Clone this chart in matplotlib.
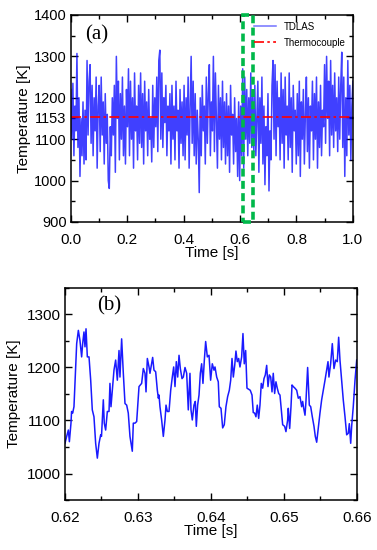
import numpy as np
import matplotlib.pyplot as plt
from matplotlib.patches import Rectangle
from matplotlib.ticker import MultipleLocator
import matplotlib.transforms as mtransforms

# (a) TDLAS temperature over the full 1 s record
tdlas_T = [
    1220, 1100, 1235, 1060, 1180, 1120, 1307, 1080, 1200, 1010, 1150, 1060, 1190, 1040,
    1170, 1050, 1290, 1110, 1240, 1280, 1090, 1230, 1060, 1200, 1120, 1250, 1030, 1180,
    1230, 1070, 1250, 1110, 1190, 1040, 1210, 1090, 1160, 1000, 981, 1130, 1060, 1200,
    1110, 1230, 1020, 1300, 1150, 1240, 1050, 1210, 1100, 1250, 1060, 1180, 1040, 1220,
    1130, 1270, 1060, 1240, 1100, 1200, 1030, 1260, 1120, 1180, 1050, 1230, 1090, 1260,
    1080, 1210, 1040, 1240, 1120, 1190, 1060, 1220, 1100, 1150, 1045, 1230, 1080, 1200,
    1130, 1250, 1070, 1290, 1315, 1100, 1260, 1080, 1200, 1140, 1230, 1060, 1180, 1120,
    1210, 1040, 1230, 1100, 1180, 1050, 1240, 1120, 1170, 1030, 1220, 1090, 1190, 1060,
    1230, 1050, 1200, 1110, 1250, 1030, 1180, 1300, 1090, 1240, 1060, 1210, 1040, 1170,
    1100, 971, 1200, 1060, 1230, 1120, 1180, 1040, 1250, 1090, 1210, 1280, 1060, 1190,
    1120, 1300, 1070, 1260, 1150, 1030, 1230, 1100, 1200, 1050, 1240, 1080, 1190, 1040,
    1210, 1060, 1180, 1020, 1230, 1110, 1160, 1040, 1200, 1070, 1150, 1010, 1190, 1000,
    1180, 1060, 1270, 1030, 1250, 1100, 1220, 1060, 1200, 1090, 1260, 1080, 1210, 1070,
    1230, 1060, 1150, 1240, 1020, 1200, 1090, 1250, 1040, 1180, 990, 1130, 1060, 1210,
    975, 1120, 1050, 1230, 1290, 1100, 1280, 1060, 1240, 1130, 1200, 1050, 1260, 1090,
    1220, 1030, 1250, 1110, 1180, 1050, 1260, 1080, 1200, 1020, 1230, 1120, 1170, 1040,
    1210, 1060, 1240, 1010, 1190, 1100, 1220, 1040, 1160, 1250, 1070, 1200, 1030, 1180,
    1120, 1240, 1050, 1210, 1100, 1250, 1030, 1190, 1080, 1230, 1060, 1170, 1130, 1280,
    1090, 1300, 1150, 1240, 1060, 1290, 1110, 1230, 1080, 1260, 1120, 1200, 1070, 1250,
    1100, 1230, 1310, 1080, 1250, 1010, 1200, 1060, 1290, 1110, 1230, 1050, 1180, 1240,
]
tdlas_t = np.linspace(0, 1, len(tdlas_T))
thermocouple_T = 1153
box_range = (0.61, 0.645)

# (b) zoomed window 0.62-0.66 s
zoom_t = [
    0.62000, 0.62023, 0.62046, 0.62060, 0.62082, 0.62090, 0.62105, 0.62123, 0.62146, 0.62160,
    0.62183, 0.62205, 0.62228, 0.62242, 0.62260, 0.62274, 0.62288, 0.62306, 0.62329, 0.62352,
    0.62374, 0.62397, 0.62420, 0.62443, 0.62466, 0.62489, 0.62500, 0.62525, 0.62538, 0.62557,
    0.62580, 0.62603, 0.62616, 0.62630, 0.62648, 0.62671, 0.62694, 0.62717, 0.62740, 0.62753,
    0.62776, 0.62799, 0.62822, 0.62845, 0.62867, 0.62890, 0.62922, 0.62936, 0.62959, 0.62982,
    0.63014, 0.63050, 0.63073, 0.63096, 0.63110, 0.63128, 0.63151, 0.63164, 0.63187, 0.63201,
    0.63219, 0.63242, 0.63265, 0.63279, 0.63288, 0.63301, 0.63324, 0.63347, 0.63370, 0.63384,
    0.63402, 0.63425, 0.63448, 0.63470, 0.63489, 0.63507, 0.63525, 0.63544, 0.63562, 0.63580,
    0.63603, 0.63621, 0.63644, 0.63667, 0.63689, 0.63712, 0.63726, 0.63744, 0.63767, 0.63785,
    0.63799, 0.63817, 0.63836, 0.63854, 0.63872, 0.63890, 0.63909, 0.63927, 0.63950, 0.63973,
    0.63995, 0.64018, 0.64041, 0.64055, 0.64078, 0.64100, 0.64114, 0.64137, 0.64160, 0.64182,
    0.64205, 0.64228, 0.64251, 0.64270, 0.64288, 0.64306, 0.64325, 0.64342, 0.64360, 0.64379,
    0.64397, 0.64420, 0.64438, 0.64456, 0.64475, 0.64493, 0.64516, 0.64538, 0.64562, 0.64579,
    0.64598, 0.64616, 0.64634, 0.64653, 0.64671, 0.64689, 0.64708, 0.64726, 0.64744, 0.64763,
    0.64781, 0.64799, 0.64818, 0.64836, 0.64853, 0.64872, 0.64890, 0.64908, 0.64927, 0.64945,
    0.64963, 0.64982, 0.65009, 0.65027, 0.65050, 0.65059, 0.65078, 0.65096, 0.65110, 0.65127,
    0.65150, 0.65174, 0.65196, 0.65219, 0.65242, 0.65256, 0.65270, 0.65288, 0.65301, 0.65324,
    0.65347, 0.65366, 0.65388, 0.65411, 0.65429, 0.65448, 0.65470, 0.65493, 0.65516, 0.65539,
    0.65562, 0.65585, 0.65603, 0.65616, 0.65639, 0.65662, 0.65685, 0.65708, 0.65730, 0.65749,
    0.65767, 0.65790, 0.65812, 0.65836, 0.65859, 0.65881, 0.65895, 0.65914, 0.65927, 0.65949,
    0.65973, 0.65996,
]
zoom_T = [
    1057, 1070, 1082, 1060, 1095, 1117, 1114, 1126, 1201, 1245,
    1270, 1251, 1220, 1245, 1267, 1239, 1273, 1220, 1220, 1176,
    1120, 1107, 1057, 1029, 1057, 1073, 1070, 1139, 1095, 1082,
    1117, 1117, 1170, 1126, 1157, 1195, 1214, 1176, 1232, 1182,
    1254, 1189, 1132, 1129, 1114, 1070, 1042, 1095, 1095, 1098,
    1164, 1170, 1198, 1189, 1154, 1217, 1201, 1189, 1207, 1219,
    1195, 1192, 1157, 1142, 1148, 1126, 1101, 1070, 1101, 1129,
    1117, 1117, 1157, 1182, 1201, 1164, 1211, 1182, 1223, 1198,
    1179, 1182, 1200, 1189, 1120, 1189, 1120, 1101, 1129, 1136,
    1089, 1129, 1148, 1189, 1207, 1170, 1214, 1249, 1220, 1223,
    1176, 1207, 1195, 1201, 1182, 1173, 1126, 1123, 1086, 1092,
    1126, 1145, 1157, 1176, 1217, 1182, 1204, 1231, 1211, 1217,
    1201, 1220, 1264, 1207, 1232, 1161, 1159, 1157, 1148, 1115,
    1114, 1107, 1129, 1104, 1129, 1170, 1161, 1179, 1186, 1204,
    1164, 1186, 1182, 1154, 1189, 1151, 1173, 1161, 1151, 1148,
    1120, 1092, 1089, 1079, 1101, 1123, 1085, 1126, 1167, 1164,
    1161, 1157, 1142, 1145, 1126, 1136, 1123, 1110, 1136, 1200,
    1129, 1126, 1107, 1089, 1070, 1059, 1086, 1114, 1139, 1157,
    1176, 1195, 1211, 1182, 1207, 1245, 1198, 1214, 1211, 1257,
    1214, 1176, 1139, 1107, 1073, 1076, 1094, 1057, 1089, 1126,
    1176, 1214,
]


def style_axes(ax):
    ax.tick_params(which='both', direction='in', top=True, right=True,
                   labelsize=11)
    ax.tick_params(axis='y', pad=3)
    ax.tick_params(axis='x', pad=8)
    ax.tick_params(which='major', length=5, width=1)
    ax.tick_params(which='minor', length=3, width=1)
    for s in ax.spines.values():
        s.set_linewidth(1.1)


def main():
    fig = plt.figure(figsize=(3.77, 5.5), dpi=100)

    # ---- (a) ----
    ax1 = fig.add_axes([0.188, 0.5964, 0.748, 0.3764])
    ax1.plot(tdlas_t, tdlas_T, color='#0000ff', lw=1.1, alpha=0.75, label='TDLAS')
    ax1.axhline(thermocouple_T, color='#ff0000', lw=1.2, ls=(0, (6, 2, 1.5, 2)),
                label='Thermocouple')
    trans = mtransforms.blended_transform_factory(ax1.transData, ax1.transAxes)
    ax1.add_patch(Rectangle((box_range[0], 0), box_range[1] - box_range[0], 1,
                            transform=trans, fill=False, ec='#00b84a', lw=2.6,
                            ls=(0, (2.2, 1.2)), clip_on=False, zorder=5))
    ax1.set_xlim(0, 1)
    ax1.set_ylim(900, 1400)
    ax1.set_yticks([900, 1000, 1100, 1153, 1200, 1300, 1400])
    ax1.yaxis.set_minor_locator(MultipleLocator(50))
    ax1.set_xticks([0, 0.2, 0.4, 0.6, 0.8, 1.0])
    ax1.xaxis.set_minor_locator(MultipleLocator(0.1))
    ax1.set_xticklabels(['0.0', '0.2', '0.4', '0.6', '0.8', '1.0'])
    style_axes(ax1)
    ax1.tick_params(axis='y', labelsize=10.5)
    ax1.set_xlabel('Time [s]', fontsize=11, labelpad=-1)
    ax1.set_ylabel('Temperature [K]', fontsize=11, labelpad=2)
    ax1.text(0.05, 0.95, '(a)', transform=ax1.transAxes, fontsize=15,
             family='Liberation Serif', va='top')
    leg = ax1.legend(loc='upper right', frameon=False, fontsize=7, handlelength=2.3,
                     borderaxespad=0.3, labelspacing=0.6)
    leg.get_lines()[0].set_alpha(0.55)

    # ---- (b) ----
    ax2 = fig.add_axes([0.1724, 0.0909, 0.7745, 0.3855])
    ax2.plot(zoom_t, zoom_T, color='#1a1aff', lw=1.1)
    ax2.set_xlim(0.62, 0.66)
    ax2.set_ylim(950, 1350)
    ax2.set_yticks([1000, 1100, 1200, 1300])
    ax2.yaxis.set_minor_locator(MultipleLocator(50))
    ax2.set_xticks([0.62, 0.63, 0.64, 0.65, 0.66])
    ax2.xaxis.set_minor_locator(MultipleLocator(0.005))
    style_axes(ax2)
    ax2.set_xlabel('Time [s]', fontsize=11, labelpad=-1)
    ax2.set_ylabel('Temperature [K]', fontsize=11, labelpad=4)
    ax2.text(0.11, 0.96, '(b)', transform=ax2.transAxes, fontsize=15,
             family='Liberation Serif', va='top')

    fig.savefig('out.png', dpi=100)


if __name__ == '__main__':
    plt.rcParams['font.family'] = ['Liberation Sans', 'DejaVu Sans']
    main()
